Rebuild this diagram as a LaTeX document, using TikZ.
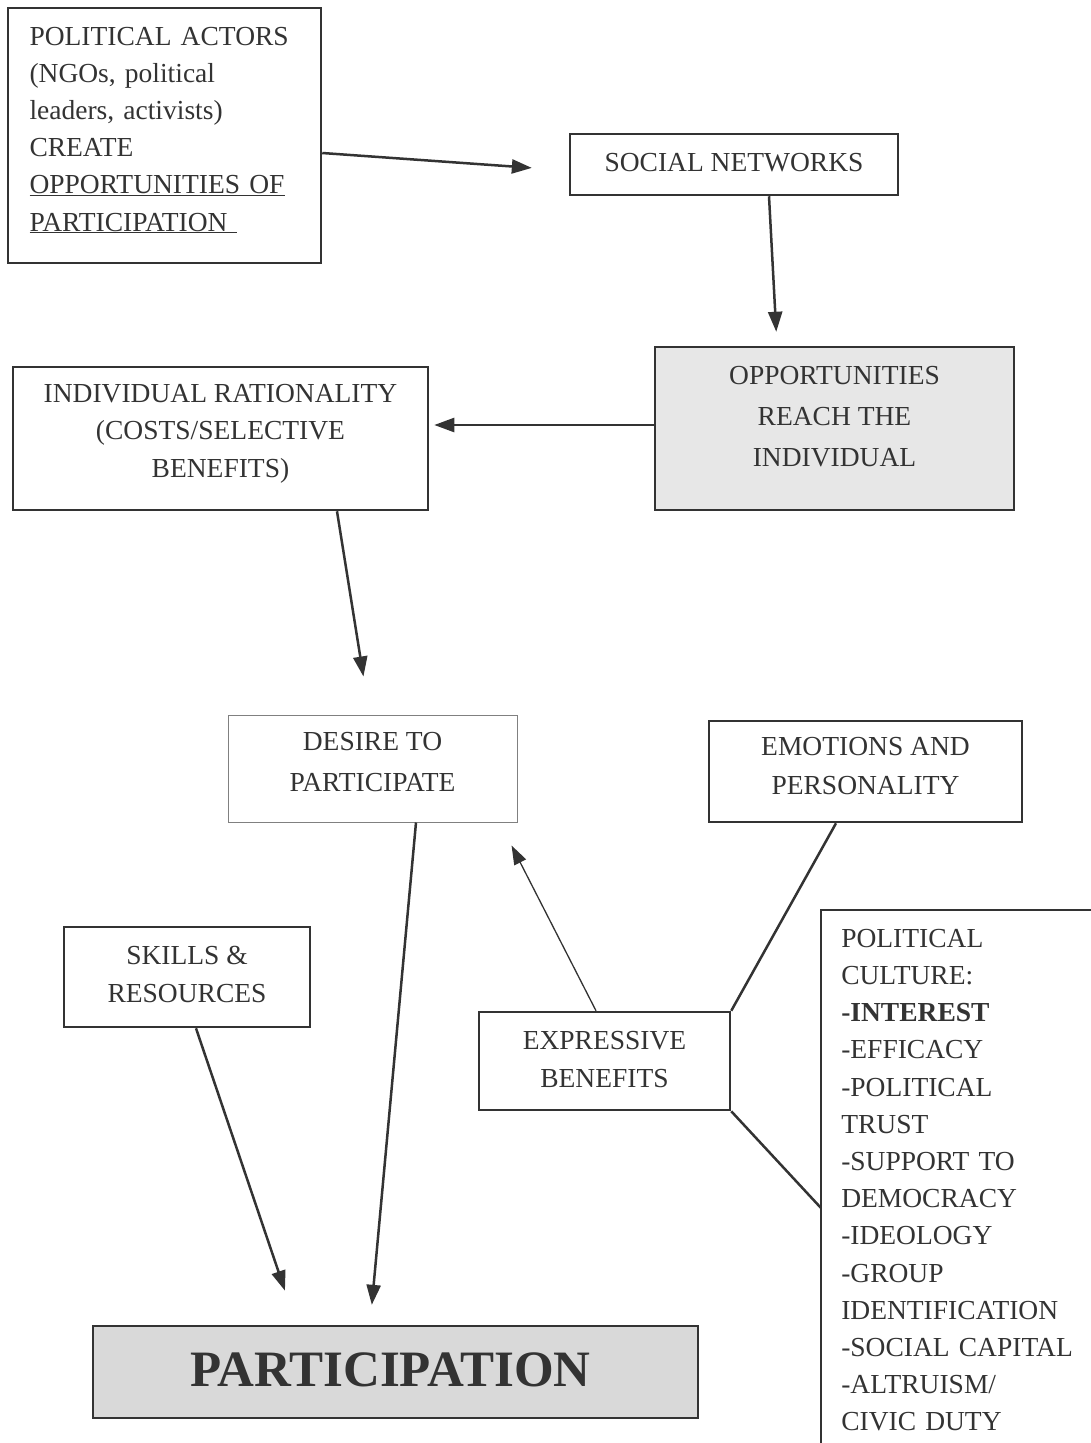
\documentclass[tikz,border=0pt]{standalone}
\usepackage{fontspec}
\setmainfont{Liberation Serif}
\usetikzlibrary{positioning}
\usetikzlibrary{arrows.meta}
\usetikzlibrary{calc}
\definecolor{ink}{HTML}{333333}
\definecolor{softgray}{HTML}{E7E7E7}
\definecolor{midgray}{HTML}{D9D9D9}

\begin{document}
\begin{tikzpicture}[x=1pt, y=-1pt, color=ink, line width=2.5pt,
  box/.style={draw=ink, line width=2.5pt, align=center, inner sep=0pt, text=ink, text height=0pt, text depth=0pt,
    font=\fontsize{27.5}{38}\selectfont},
  arr/.style={draw=ink, line width=2.5pt, -{Triangle[length=20pt, width=14pt]}},
  thinarr/.style={draw=ink, line width=1.3pt, -{Triangle[length=19pt, width=13pt]}}]

\useasboundingbox (0,0) rectangle (1090,1443);

\node (actors) [box, align=left, text width=270pt, minimum width=313pt, minimum height=255pt,
  text depth=181pt, font=\fontsize{27.5}{37.2}\selectfont] at (164.5,135.5)
  {POLITICAL ACTORS\\(NGOs, political\\leaders, activists)\\CREATE\\\underline{OPPORTUNITIES OF}\\\underline{PARTICIPATION\ }};
\node (networks) [box, minimum width=328pt, minimum height=61pt, text height=13pt] at (734,164.5)
  {SOCIAL NETWORKS};
\node (opps) [box, fill=softgray, minimum width=359pt, minimum height=163pt,
  text height=75pt, font=\fontsize{27.5}{41}\selectfont] at (834.5,428.5)
  {OPPORTUNITIES\\REACH THE\\INDIVIDUAL};
\node (rational) [box, minimum width=415pt, minimum height=143pt,
  text height=77pt, font=\fontsize{27.5}{37.5}\selectfont] at (220.5,438.5)
  {INDIVIDUAL RATIONALITY\\(COSTS/SELECTIVE\\BENEFITS)};
\node (desire) [box, draw=gray, line width=1pt, minimum width=289pt, minimum height=107pt,
  text height=45pt, font=\fontsize{27.5}{41}\selectfont] at (372.5,768.5)
  {DESIRE TO\\PARTICIPATE};
\node (emotions) [box, minimum width=313pt, minimum height=101pt,
  text height=45pt, font=\fontsize{27.5}{39}\selectfont] at (865.5,771.5)
  {EMOTIONS AND\\PERSONALITY};
\node (skills) [box, minimum width=246pt, minimum height=100pt, text height=50pt] at (187,977)
  {SKILLS \&\\RESOURCES};
\node (expr) [box, minimum width=251pt, minimum height=98pt, text height=52pt] at (604.5,1061)
  {EXPRESSIVE\\BENEFITS};
\node (culture) [box, draw=none, align=left, anchor=north west, text width=250pt, inner xsep=19pt,
  minimum height=533pt, text depth=461pt, font=\fontsize{27.5}{37.2}\selectfont] at (821,910)
  {POLITICAL\\CULTURE:\\\textbf{-INTEREST}\\-EFFICACY\\-POLITICAL\\TRUST\\-SUPPORT TO\\DEMOCRACY\\-IDEOLOGY\\-GROUP\\IDENTIFICATION\\-SOCIAL CAPITAL\\-ALTRUISM/\\CIVIC DUTY};
\node (part) [box, fill=midgray, minimum width=605pt, minimum height=92pt, text height=28pt,
  font=\fontsize{51}{51}\selectfont\bfseries] at (395.5,1372) {PARTICIPATION\hspace*{10pt}};

% open box round the culture list
\draw (culture.north east) -- (culture.north west) -- (culture.south west);

\draw [arr, shorten >=37pt] ([yshift=-17.5pt]actors.east) -- ([yshift=-6pt]networks.west);
\draw [arr, shorten >=14pt] ([xshift=35pt]networks.south) -- ([xshift=-57.5pt]opps.north);
\draw [arr, shorten >=5pt] ([yshift=3.5pt]opps.west) -- ([yshift=3.5pt]opps.west -| rational.east);
\draw [arr, shorten >=38.5pt] ([xshift=116.5pt]rational.south) -- ([xshift=-3pt]desire.north);
\draw [arr, shorten >=20pt] ([xshift=43.5pt]desire.south) -- ([xshift=-25.5pt]part.north);
\draw [arr, shorten >=36pt] ([xshift=9pt]skills.south) -- ([xshift=-99pt]part.north);
\draw [thinarr, shorten >=25.8pt] ([xshift=-8.5pt]expr.north) -- ([xshift=-17.7pt]desire.south east);

\draw ([xshift=-29.5pt]emotions.south) -- (expr.north east);
\draw (expr.south east) -- ([yshift=-298pt]culture.north west);

\end{tikzpicture}
\end{document}
